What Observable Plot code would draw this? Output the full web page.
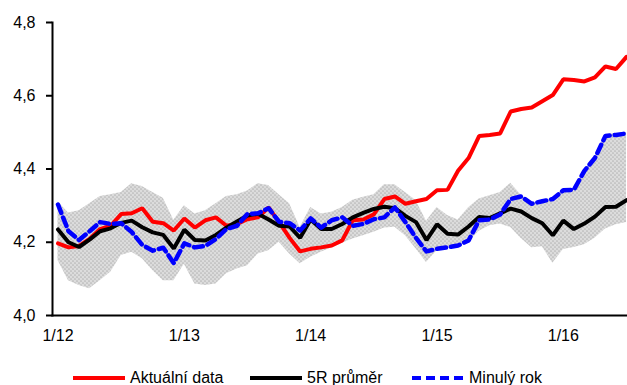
<!DOCTYPE html>
<html>
<head>
<meta charset="utf-8">
<script src="https://cdn.jsdelivr.net/npm/d3@7"></script>
<script src="https://cdn.jsdelivr.net/npm/@observablehq/plot@0.6"></script>
<style>
  body { margin: 0; background: #fff; font-family: "Liberation Sans", Arial, sans-serif; }
  #chart { position: relative; width: 627px; height: 385px; }
  .item { position: absolute; top: 369px; height: 18px; display: flex; align-items: center; gap: 5px; font-size: 16px; line-height: 18px; color: #000; white-space: nowrap; }
  .item svg { display: block; }
</style>
</head>
<body>
<div id="chart"></div>
<script>
// Monthly periods, January 2012 – July 2016
const months = d3.range(55).map(i => `${i % 12 + 1}/${12 + Math.floor(i / 12)}`);
const tickLabels = ["1/12", "1/13", "1/14", "1/15", "1/16"];

// Current data
const aktualni = [
  4.197, 4.186, 4.190, 4.209, 4.236, 4.245, 4.277, 4.279, 4.293, 4.256, 4.252, 4.232,
  4.265, 4.240, 4.260, 4.268, 4.245, 4.250, 4.263, 4.268, 4.295, 4.255, 4.212, 4.175,
  4.182, 4.186, 4.191, 4.205, 4.260, 4.262, 4.276, 4.318, 4.325, 4.305, 4.312, 4.318,
  4.342, 4.343, 4.395, 4.430, 4.490, 4.493, 4.497, 4.557, 4.564, 4.568, 4.585, 4.602,
  4.645, 4.643, 4.639, 4.650, 4.680, 4.673, 4.706
];

// Five-year average
const prumer5R = [
  4.235, 4.200, 4.187, 4.207, 4.230, 4.238, 4.253, 4.259, 4.241, 4.227, 4.220, 4.183,
  4.234, 4.206, 4.205, 4.220, 4.240, 4.257, 4.273, 4.278, 4.262, 4.245, 4.243, 4.212,
  4.262, 4.236, 4.236, 4.250, 4.268, 4.280, 4.291, 4.297, 4.293, 4.272, 4.255, 4.206,
  4.249, 4.223, 4.221, 4.243, 4.269, 4.266, 4.279, 4.292, 4.284, 4.266, 4.252, 4.219,
  4.259, 4.236, 4.251, 4.270, 4.296, 4.297, 4.315
];

// Same months one year earlier
const minulyRok = [
  4.303, 4.230, 4.206, 4.230, 4.255, 4.250, 4.252, 4.228, 4.193, 4.177, 4.185, 4.143,
  4.197, 4.186, 4.190, 4.209, 4.236, 4.245, 4.277, 4.279, 4.293, 4.256, 4.252, 4.232,
  4.265, 4.240, 4.260, 4.268, 4.245, 4.250, 4.263, 4.268, 4.295, 4.255, 4.212, 4.175,
  4.182, 4.186, 4.191, 4.205, 4.260, 4.262, 4.276, 4.318, 4.325, 4.305, 4.312, 4.318,
  4.342, 4.343, 4.395, 4.430, 4.490, 4.493, 4.497
];

// Five-year range: minimum and maximum
const minimum = [
  4.150, 4.095, 4.082, 4.073, 4.095, 4.118, 4.164, 4.173, 4.155, 4.123, 4.095, 4.095,
  4.140, 4.086, 4.082, 4.086, 4.114, 4.127, 4.136, 4.168, 4.177, 4.200, 4.168, 4.141,
  4.159, 4.173, 4.185, 4.197, 4.209, 4.218, 4.227, 4.239, 4.241, 4.218, 4.182, 4.145,
  4.177, 4.183, 4.189, 4.200, 4.230, 4.245, 4.250, 4.240, 4.210, 4.185, 4.188, 4.143,
  4.180, 4.186, 4.193, 4.211, 4.236, 4.248, 4.254
];
const maximum = [
  4.310, 4.280, 4.286, 4.305, 4.325, 4.330, 4.336, 4.360, 4.352, 4.336, 4.320, 4.260,
  4.300, 4.277, 4.286, 4.305, 4.325, 4.330, 4.340, 4.360, 4.355, 4.330, 4.305, 4.240,
  4.295, 4.277, 4.282, 4.295, 4.315, 4.323, 4.330, 4.357, 4.357, 4.336, 4.314, 4.257,
  4.295, 4.273, 4.261, 4.294, 4.318, 4.327, 4.336, 4.361, 4.328, 4.307, 4.314, 4.320,
  4.345, 4.346, 4.398, 4.432, 4.493, 4.496, 4.500
];

const rows = months.map((m, i) => ({
  m,
  aktualni: aktualni[i],
  prumer: prumer5R[i],
  minuly: minulyRok[i],
  lo: minimum[i],
  hi: maximum[i]
}));

const font = "'Liberation Sans', Arial, sans-serif";

const chart = Plot.plot({
  width: 627,
  height: 350,
  marginLeft: 52,
  marginRight: 1,
  marginTop: 22,
  marginBottom: 35,
  style: { fontFamily: font, fontSize: "16px", color: "#000", background: "#fff", overflow: "visible" },
  x: { type: "point", domain: months, padding: 0, round: false, insetLeft: 5.5, label: null },
  y: { domain: [4.0, 4.8], label: null },
  marks: [
    Plot.areaY(rows, { x: "m", y1: "lo", y2: "hi", fill: "url(#tecky)" }),
    Plot.lineY(rows, { x: "m", y: "aktualni", stroke: "#ff0000", strokeWidth: 4, strokeLinejoin: "miter" }),
    Plot.lineY(rows, { x: "m", y: "prumer", stroke: "#000000", strokeWidth: 4, strokeLinejoin: "miter" }),
    Plot.lineY(rows, { x: "m", y: "minuly", stroke: "#0000ff", strokeWidth: 4.5, strokeDasharray: "9,5" }),
    Plot.axisY({
      ticks: [4.0, 4.2, 4.4, 4.6, 4.8],
      tickFormat: d => d.toFixed(1).replace(".", ","),
      tickSize: 6,
      tickPadding: 11,
      strokeWidth: 2,
      label: null
    }),
    Plot.axisX({ ticks: tickLabels, tickSize: 0, tickPadding: 14, label: null }),
    Plot.frame({ anchor: "left", strokeWidth: 2 }),
    Plot.frame({ anchor: "bottom", strokeWidth: 2 })
  ]
});

// Dotted grey fill for the five-year range
const defs = d3.select(chart).insert("defs", ":first-child");
const pat = defs.append("pattern")
  .attr("id", "tecky")
  .attr("patternUnits", "userSpaceOnUse")
  .attr("width", 4)
  .attr("height", 4);
pat.append("rect").attr("width", 4).attr("height", 4).attr("fill", "#dcdcdc");
pat.append("circle").attr("cx", 1).attr("cy", 1).attr("r", 0.85).attr("fill", "#b6b6b6");
pat.append("circle").attr("cx", 3).attr("cy", 3).attr("r", 0.85).attr("fill", "#b6b6b6");

const root = document.getElementById("chart");
root.appendChild(chart);

// Legend below the chart
const legendItems = [
  { label: "Aktuální data", color: "#ff0000", dash: null, left: 73 },
  { label: "5R průměr", color: "#000000", dash: null, left: 250 },
  { label: "Minulý rok", color: "#0000ff", dash: "9,5", left: 412 }
];
for (const it of legendItems) {
  const div = document.createElement("div");
  div.className = "item";
  div.style.left = it.left + "px";
  div.innerHTML =
    `<svg width="52" height="8"><line x1="0" y1="4" x2="52" y2="4" stroke="${it.color}" stroke-width="4"${it.dash ? ` stroke-dasharray="${it.dash}"` : ""}/></svg>` +
    `<span>${it.label}</span>`;
  root.appendChild(div);
}
</script>
</body>
</html>
